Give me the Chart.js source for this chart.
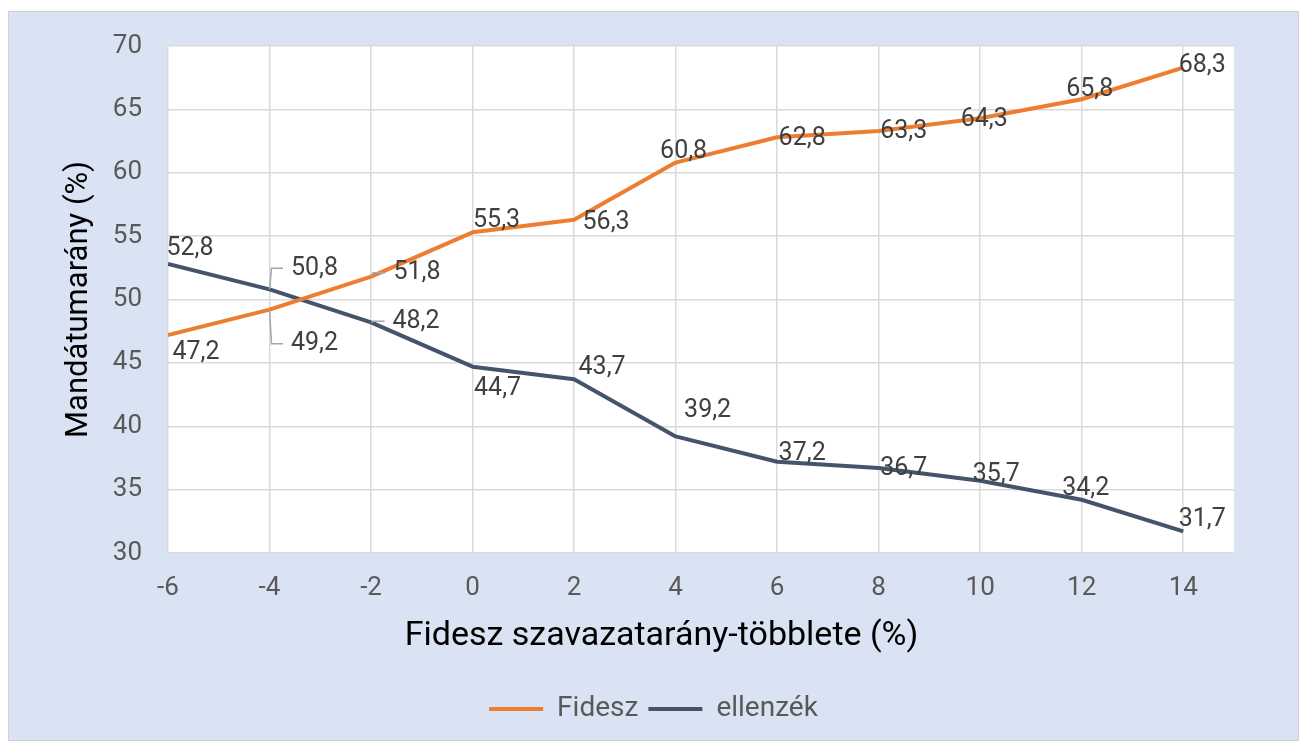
<!DOCTYPE html>
<html>
<head>
<meta charset="utf-8">
<script src="https://cdn.jsdelivr.net/npm/chart.js@4.4.1/dist/chart.umd.min.js"></script>
<style>
  html, body { margin: 0; padding: 0; background: #ffffff; }
  #box {
    position: absolute; left: 8px; top: 11px;
    width: 1289px; height: 728px;
    border: 1px solid #d0d0d0;
    background: #dae3f3;
  }
  canvas { display: block; }
</style>
</head>
<body>
<div id="box"><canvas id="chart" width="1289" height="728"></canvas></div>
<script>
// Fidesz vote-share surplus (%) on the x axis
const surplus = [-6, -4, -2, 0, 2, 4, 6, 8, 10, 12, 14];
// seat share (%)
const fidesz = [47.2, 49.2, 51.8, 55.3, 56.3, 60.8, 62.8, 63.3, 64.3, 65.8, 68.3];
const ellenzek = [52.8, 50.8, 48.2, 44.7, 43.7, 39.2, 37.2, 36.7, 35.7, 34.2, 31.7];

const xTitle = 'Fidesz szavazatarány-többlete (%)';
const yTitle = 'Mandátumarány (%)';

// label placement in px relative to the point, third item = leader line
const fideszLabelPos = [[28, 18], [45, 34, true], [46, -4, true], [24, -12], [32, 3], [8, -11], [25, 1], [25, 1], [4, 2], [8, -9], [19, -2]];
const ellenzekLabelPos = [[22, -15], [45, -21, true], [45, -1, true], [25, 22], [28, -12], [32, -26], [25, -8], [25, 1], [16, -6], [4, -11], [19, -12]];

const FONT = 'Roboto, "Noto Sans", sans-serif';

const plotBackground = {
  id: 'plotBackground',
  beforeDraw(chart) {
    const { ctx, chartArea: a } = chart;
    ctx.save();
    ctx.fillStyle = '#ffffff';
    ctx.fillRect(a.left, a.top, a.right - a.left, a.bottom - a.top);
    ctx.restore();
  }
};

// x title sits centred on the whole chart box, not on the plot area
const xAxisTitle = {
  id: 'xAxisTitle',
  afterDraw(chart) {
    const ctx = chart.ctx;
    ctx.save();
    ctx.font = '34px ' + FONT;
    ctx.fillStyle = '#000000';
    ctx.textAlign = 'center';
    ctx.textBaseline = 'middle';
    ctx.fillText(xTitle, chart.width / 2 + 8, chart.scales.x.bottom - 49);
    ctx.restore();
  }
};

const pointLabels = {
  id: 'pointLabels',
  afterDatasetsDraw(chart) {
    const ctx = chart.ctx;
    ctx.save();
    ctx.font = '25px ' + FONT;
    ctx.textAlign = 'center';
    ctx.textBaseline = 'middle';
    chart.data.datasets.forEach((ds, di) => {
      const meta = chart.getDatasetMeta(di);
      meta.data.forEach((pt, i) => {
        const pos = ds.labelPos[i];
        const text = String(ds.data[i].y).replace('.', ',');
        const lx = pt.x + pos[0];
        const ly = pt.y + pos[1];
        if (pos[2]) {
          const w = ctx.measureText(text).width;
          ctx.strokeStyle = '#a6a6a6';
          ctx.lineWidth = 1.5;
          ctx.beginPath();
          ctx.moveTo(pt.x, pt.y);
          ctx.lineTo(pt.x + 2, ly);
          ctx.lineTo(lx - w / 2 - 8, ly);
          ctx.stroke();
        }
        ctx.fillStyle = '#404040';
        ctx.fillText(text, lx, ly);
      });
    });
    ctx.restore();
  }
};

new Chart(document.getElementById('chart'), {
  type: 'line',
  data: {
    datasets: [
      {
        label: 'Fidesz',
        data: surplus.map((x, i) => ({ x: x, y: fidesz[i] })),
        labelPos: fideszLabelPos,
        borderColor: '#ed7d31',
        backgroundColor: '#ed7d31',
        borderWidth: 4,
        borderJoinStyle: 'round',
        pointRadius: 0,
        tension: 0
      },
      {
        label: 'ellenzék',
        data: surplus.map((x, i) => ({ x: x, y: ellenzek[i] })),
        labelPos: ellenzekLabelPos,
        borderColor: '#44546a',
        backgroundColor: '#44546a',
        borderWidth: 4,
        borderJoinStyle: 'round',
        pointRadius: 0,
        tension: 0
      }
    ]
  },
  options: {
    responsive: false,
    animation: false,
    layout: { padding: { left: 0, top: 34, right: 0, bottom: 7 } },
    plugins: {
      tooltip: { enabled: false },
      legend: {
        position: 'bottom',
        labels: {
          usePointStyle: true,
          pointStyle: 'line',
          pointStyleWidth: 54,
          padding: 10,
          color: '#595959',
          font: { family: FONT, size: 28 }
        }
      }
    },
    scales: {
      x: {
        type: 'linear',
        min: -6,
        max: 15,
        afterBuildTicks: s => { s.ticks = s.ticks.filter(t => t.value <= 14); },
        afterFit: s => { s.height = 132; },
        ticks: {
          stepSize: 2,
          padding: 20,
          color: '#595959',
          font: { family: FONT, size: 26 }
        },
        grid: { color: '#d9d9d9', lineWidth: 1.5, drawTicks: false },
        border: { display: false }
      },
      y: {
        min: 30,
        max: 70,
        afterFit: s => { s.width = 159; },
        ticks: {
          stepSize: 5,
          padding: 4,
          color: '#595959',
          font: { family: FONT, size: 26 }
        },
        // invisible tick marks keep the labels off the plot edge
        grid: { color: '#d9d9d9', lineWidth: 1.5, drawTicks: true, tickLength: 22, tickColor: 'rgba(0,0,0,0)' },
        border: { display: false },
        title: {
          display: true,
          text: yTitle,
          color: '#000000',
          font: { family: FONT, size: 31 },
          padding: { top: 52, bottom: 0 }
        }
      },
      // empty right-hand margin so the legend stays centred on the box
      yRight: {
        position: 'right',
        afterFit: s => { s.width = 64; },
        ticks: { display: false },
        grid: { display: false },
        border: { display: false }
      }
    }
  },
  plugins: [plotBackground, pointLabels, xAxisTitle]
});
</script>
</body>
</html>
